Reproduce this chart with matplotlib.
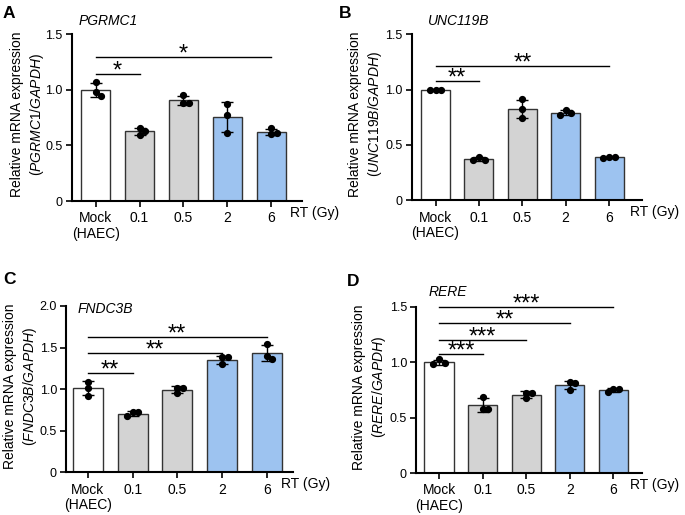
import numpy as np
import matplotlib
matplotlib.use("Agg")
import matplotlib.pyplot as plt

plt.rcParams['font.family'] = ['Liberation Sans', 'DejaVu Sans']
plt.rcParams['mathtext.fontset'] = 'custom'
plt.rcParams['mathtext.rm'] = 'Liberation Sans'
plt.rcParams['mathtext.it'] = 'Liberation Sans:italic'

# ---------------- data ----------------
categories = ["Mock\n(HAEC)", "0.1", "0.5", "2", "6"]
genes = ["PGRMC1", "UNC119B", "FNDC3B", "RERE"]
panel_letters = ["A", "B", "C", "D"]

pgrmc1 = [[1.072, 0.982, 0.946], [0.653, 0.632, 0.596], [0.955, 0.883, 0.883],
          [0.877, 0.772, 0.613], [0.653, 0.602, 0.613]]
unc119b = [[1.0, 1.0, 1.0], [0.394, 0.364, 0.364], [0.912, 0.825, 0.747],
           [0.816, 0.771, 0.786], [0.390, 0.388, 0.386]]
fndc3b = [[1.089, 1.017, 0.921], [0.721, 0.721, 0.677], [1.017, 1.017, 0.950],
          [1.383, 1.383, 1.298], [1.543, 1.402, 1.362]]
rere = [[1.024, 0.982, 0.994], [0.687, 0.574, 0.574], [0.723, 0.723, 0.673],
        [0.823, 0.808, 0.748], [0.760, 0.760, 0.730]]

# significance: (target group index, bracket height, label)
sig_pgrmc1 = [(1, 1.143, "*"), (4, 1.293, "*")]
sig_unc119b = [(1, 1.075, "**"), (4, 1.217, "**")]
sig_fndc3b = [(1, 1.198, "**"), (3, 1.431, "**"), (4, 1.623, "**")]
sig_rere = [(1, 1.075, "***"), (2, 1.200, "***"), (3, 1.353, "**"), (4, 1.494, "***")]

ymax = [1.5, 1.5, 2.0, 1.5]
yticks_list = [[0, 0.5, 1.0, 1.5], [0, 0.5, 1.0, 1.5],
               [0, 0.5, 1.0, 1.5, 2.0], [0, 0.5, 1.0, 1.5]]

bar_colors = ["white", "#d3d3d3", "#d3d3d3", "#9dc3f0", "#9dc3f0"]

all_data = [pgrmc1, unc119b, fndc3b, rere]
all_sig = [sig_pgrmc1, sig_unc119b, sig_fndc3b, sig_rere]

# ---------------- layout (pixels) ----------------
W, H = 685, 515
# left, right, top, bottom in px
boxes = [(71.5, 302, 34.3, 201), (411.7, 642, 34.3, 200.3),
         (66, 293, 306, 472.3), (416, 641.7, 306.7, 473)]
xlims = [(-0.55, 4.70), (-0.55, 4.76), (-0.49, 4.59), (-0.53, 4.65)]
letter_pos = [(9, 14), (345, 14), (9, 280), (353, 281)]
title_pos = [(79, 21), (428, 21), (78, 309), (429, 292)]
ylabel_x = [28, 366, 21, 370]

fig = plt.figure(figsize=(W / 100, H / 100), dpi=100)

FS = 10
FS_Y = 9


def swarm(vals, ppu_y, ppu_x, diam=5.6):
    order = np.argsort(vals)[::-1]
    placed = []
    offs = np.zeros(len(vals))
    step = diam / ppu_x
    for i in order:
        for c in [0, step, -step, 2 * step, -2 * step]:
            ok = True
            for (px, py) in placed:
                d = np.hypot((c - px) * ppu_x, (vals[i] - py) * ppu_y)
                if d < diam * 0.95:
                    ok = False
                    break
            if ok:
                offs[i] = c
                placed.append((c, vals[i]))
                break
    return offs


for k in range(4):
    l, r, t, b = boxes[k]
    ax = fig.add_axes([l / W, 1 - b / H, (r - l) / W, (b - t) / H])
    data = all_data[k]
    x = np.arange(len(categories))
    means = [np.mean(g) for g in data]
    sds = [np.std(g, ddof=1) for g in data]
    ax.bar(x, means, width=0.67, color=bar_colors, edgecolor="#333333",
           linewidth=1.0, zorder=1)
    ax.errorbar(x, means, yerr=sds, fmt="none", ecolor="black", elinewidth=1.0,
                capsize=4.6, capthick=1.0, zorder=3)
    ppu_y = (b - t) / ymax[k]
    ppu_x = (r - l) / (xlims[k][1] - xlims[k][0])
    for i, g in enumerate(data):
        offs = swarm(np.array(g), ppu_y, ppu_x)
        ax.plot(x[i] + offs, g, "o", color="black", ms=4.2, mec="black",
                zorder=4, clip_on=False)
    for (tgt, yv, lab) in all_sig[k]:
        ax.plot([x[0], x[tgt]], [yv, yv], color="black", lw=1.0, clip_on=False,
                zorder=5)
        ax.annotate(lab, xy=((x[0] + x[tgt]) / 2, yv), xytext=(0, -2.6),
                    textcoords="offset points", ha="center", va="baseline",
                    fontsize=17, annotation_clip=False)
    ax.set_xlim(*xlims[k])
    ax.set_ylim(0, ymax[k])
    ax.set_yticks(yticks_list[k])
    ax.set_yticklabels(["0" if v == 0 else f"{v:.1f}" for v in yticks_list[k]],
                       fontsize=FS_Y)
    ax.set_xticks(x)
    ax.set_xticklabels(categories, fontsize=FS, linespacing=1.15)
    for s in ["top", "right"]:
        ax.spines[s].set_visible(False)
    for s in ["left", "bottom"]:
        ax.spines[s].set_linewidth(1.5)
    ax.tick_params(axis="both", direction="out", length=4.5, width=1.2,
                   pad=2)
    ax.tick_params(axis="x", pad=3)
    ax.text(0.948, -0.03, "RT (Gy)", transform=ax.transAxes, ha="left",
            va="top", fontsize=FS)
    # titles, letters and y labels in figure pixel coords
    fig.text(letter_pos[k][0] / W, 1 - letter_pos[k][1] / H, panel_letters[k],
             fontsize=12.5, fontweight="bold", ha="center", va="center")
    fig.text(title_pos[k][0] / W, 1 - title_pos[k][1] / H, genes[k],
             fontsize=FS, style="italic", ha="left", va="center")
    fig.text(ylabel_x[k] / W, 1 - ((t + b) / 2 - 3) / H,
             "Relative mRNA expression\n($\\mathit{" + genes[k] + "/GAPDH}$)",
             rotation=90, ha="center", va="center", fontsize=FS,
             linespacing=1.3, multialignment="center")

fig.savefig("out.png", dpi=100)
